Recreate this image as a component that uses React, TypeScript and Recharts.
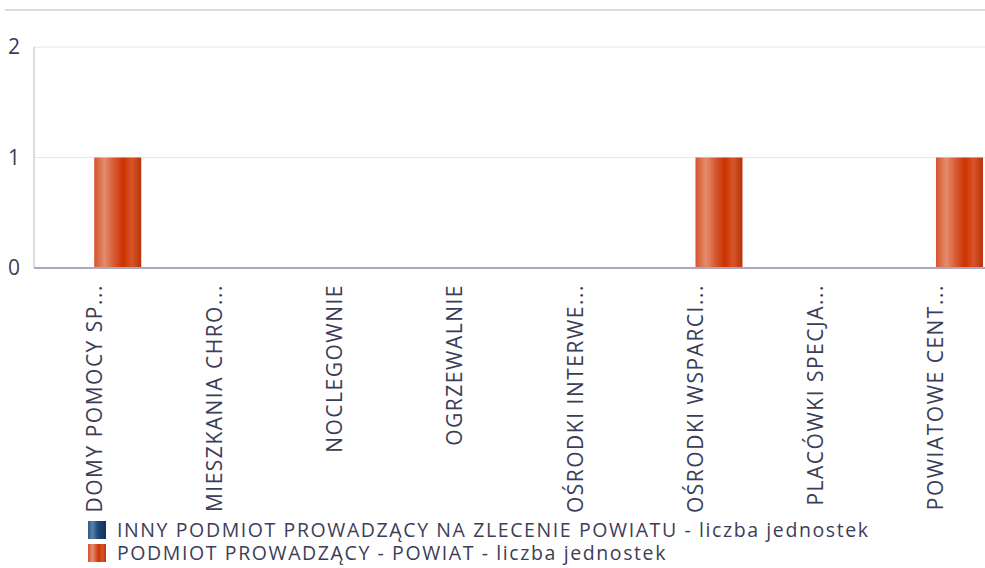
import { BarChart, Bar, XAxis, YAxis, CartesianGrid } from 'recharts'

const CATEGORIES = [
  'DOMY POMOCY SP...',
  'MIESZKANIA CHRO...',
  'NOCLEGOWNIE',
  'OGRZEWALNIE',
  'OŚRODKI INTERWE...',
  'OŚRODKI WSPARCI...',
  'PLACÓWKI SPECJA...',
  'POWIATOWE CENT...',
]
const INNY_VALUES = [0, 0, 0, 0, 0, 0, 0, 0]
const POWIAT_VALUES = [1, 0, 0, 0, 0, 1, 0, 1]
const Y_TICKS = [0, 1, 2]

const SERIES = [
  { key: 'inny', name: 'INNY PODMIOT PROWADZĄCY NA ZLECENIE POWIATU - liczba jednostek', fill: 'url(#gradBlue)' },
  { key: 'powiat', name: 'PODMIOT PROWADZĄCY - POWIAT - liczba jednostek', fill: 'url(#gradRed)' },
]

const data = CATEGORIES.map((name, i) => ({ name, inny: INNY_VALUES[i], powiat: POWIAT_VALUES[i] }))

const FONT = '"Open Sans", sans-serif'
const TEXT = '#3d3d57'

function CategoryTick({ x, y, payload }: any) {
  return (
    <g transform={`translate(${x},${y})`}>
      <text
        transform="rotate(-90)"
        x={-14}
        y={0}
        dy="0.36em"
        textAnchor="end"
        fontSize={21}
        letterSpacing={1.5}
        fill={TEXT}
        fontFamily={FONT}
      >
        {payload.value}
      </text>
    </g>
  )
}

function LegendIcon({ blue }: { blue: boolean }) {
  const bg = blue
    ? 'linear-gradient(90deg, #2c5a8a 0%, #5a80aa 25%, #1f4878 55%, #173c68 80%, #10305a 100%)'
    : 'linear-gradient(90deg, #d6542c 0%, #e48c6c 25%, #cc3300 60%, #d6552a 80%, #b83308 100%)'
  return <span style={{ display: 'inline-block', width: 18, height: 18, background: bg, marginRight: 11, flex: 'none' }} />
}

export default function App() {
  return (
    <div style={{ position: 'fixed', top: 0, left: 0, width: 985, height: 568, overflow: 'hidden', background: '#fff', fontFamily: FONT }}>
      <div style={{ position: 'absolute', top: 9, left: 5, right: 0, height: 2, background: '#dcdce8' }} />
      <BarChart
        width={1000}
        height={520}
        data={data}
        margin={{ top: 47, right: 4, bottom: 0, left: 0 }}
        barGap={0}
        barCategoryGap="11%"
      >
        <defs>
          <linearGradient id="gradRed" x1="0" y1="0" x2="1" y2="0">
            <stop offset="0%" stopColor="#d6542c" />
            <stop offset="22%" stopColor="#e48c6c" />
            <stop offset="42%" stopColor="#d65a34" />
            <stop offset="62%" stopColor="#cc3300" />
            <stop offset="80%" stopColor="#d6552a" />
            <stop offset="100%" stopColor="#b83308" />
          </linearGradient>
          <linearGradient id="gradBlue" x1="0" y1="0" x2="1" y2="0">
            <stop offset="0%" stopColor="#2c5a8a" />
            <stop offset="22%" stopColor="#5a80aa" />
            <stop offset="62%" stopColor="#1a3e6b" />
            <stop offset="80%" stopColor="#2a5280" />
            <stop offset="100%" stopColor="#10305a" />
          </linearGradient>
        </defs>
        <CartesianGrid vertical={false} stroke="#e6e6ee" />
        <XAxis
          dataKey="name"
          interval={0}
          height={252}
          tick={<CategoryTick />}
          tickLine={false}
          tickSize={0}
          stroke="#a9aac2"
          strokeWidth={2}
        />
        <YAxis
          width={34}
          domain={[0, 2]}
          ticks={Y_TICKS}
          tickLine={false}
          tickSize={0}
          tickMargin={14}
          stroke="#b8b8cc"
          tick={{ fontSize: 21, fill: TEXT, fontFamily: FONT }}
        />
        {SERIES.map(s => (
          <Bar key={s.key} dataKey={s.key} name={s.name} fill={s.fill} isAnimationActive={false} />
        ))}
      </BarChart>
      <div style={{ position: 'absolute', left: 88, top: 518, fontSize: 19.5, letterSpacing: 1.6, color: TEXT, lineHeight: '23px' }}>
        {SERIES.map((s, i) => (
          <div key={s.key} style={{ display: 'flex', alignItems: 'center', whiteSpace: 'nowrap', height: 23 }}>
            <LegendIcon blue={i === 0} />
            {s.name}
          </div>
        ))}
      </div>
    </div>
  )
}
